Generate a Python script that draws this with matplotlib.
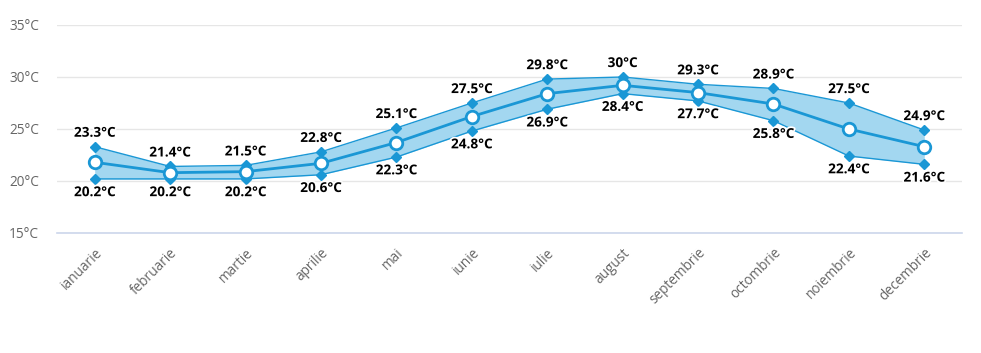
import matplotlib
matplotlib.use("Agg")
import matplotlib.pyplot as plt
import matplotlib.patheffects as pe
import numpy as np

months = ["ianuarie", "februarie", "martie", "aprilie", "mai", "iunie",
          "iulie", "august", "septembrie", "octombrie", "noiembrie", "decembrie"]
t_max = [23.3, 21.4, 21.5, 22.8, 25.1, 27.5, 29.8, 30.0, 29.3, 28.9, 27.5, 24.9]
t_min = [20.2, 20.2, 20.2, 20.6, 22.3, 24.8, 26.9, 28.4, 27.7, 25.8, 22.4, 21.6]
t_avg = [21.8, 20.8, 20.9, 21.7, 23.7, 26.2, 28.4, 29.2, 28.5, 27.4, 25.0, 23.3]
y_ticks = [15, 20, 25, 30, 35]

plt.rcParams['font.family'] = ['Open Sans', 'DejaVu Sans']

W, H = 981, 353
fig = plt.figure(figsize=(W / 100, H / 100), dpi=100)
ax = fig.add_axes([57 / W, (H - 233) / H, (962 - 57) / W, (233 - 25) / H])

x = np.arange(len(months))
line_c = '#1a97d5'
fill_c = '#a3d7f0'

ax.fill_between(x, t_min, t_max, color=fill_c, zorder=2, linewidth=0)
ax.plot(x, t_max, color=line_c, lw=1, zorder=3, marker='D', ms=5.5, mec=line_c, mfc=line_c)
ax.plot(x, t_min, color=line_c, lw=1, zorder=3, marker='D', ms=5.5, mec=line_c, mfc=line_c)
ax.plot(x, t_avg, color=line_c, lw=2, zorder=4, marker='o', ms=9, mfc='white', mec=line_c, mew=2)

def fmt(v):
    s = f"{v:.1f}"
    if s.endswith(".0"):
        s = s[:-2]
    return s + "°C"

outline = [pe.withStroke(linewidth=2.5, foreground='white')]
for xi, hi, lo in zip(x, t_max, t_min):
    ax.annotate(fmt(hi), (xi, hi), xytext=(0, 5), textcoords='offset points',
                ha='center', va='bottom', fontsize=9.8, fontweight='bold',
                color='black', path_effects=outline, zorder=6)
    ax.annotate(fmt(lo), (xi, lo), xytext=(0, -4.5), textcoords='offset points',
                ha='center', va='top', fontsize=9.8, fontweight='bold',
                color='black', path_effects=outline, zorder=6)

ax.set_xlim(-0.5, len(months) - 0.5)
ax.set_ylim(15, 35)
ax.set_yticks(y_ticks)
ax.set_yticklabels([f"{v}°C" for v in y_ticks])
ax.yaxis.grid(True, color='#e6e6e6', lw=1, zorder=0)
ax.set_axisbelow(True)
for s in ['top', 'right', 'left']:
    ax.spines[s].set_visible(False)
ax.spines['bottom'].set_color('#ccd6eb')
ax.spines['bottom'].set_linewidth(1.2)
ax.tick_params(axis='y', length=0, pad=13, labelsize=9.8, labelcolor='#666666')
ax.tick_params(axis='x', length=0, pad=9, labelsize=9.8, labelcolor='#666666')
ax.set_xticks(x)
ax.set_xticklabels(months, rotation=45, ha='right', rotation_mode='anchor')

fig.savefig('out.png', dpi=100)
